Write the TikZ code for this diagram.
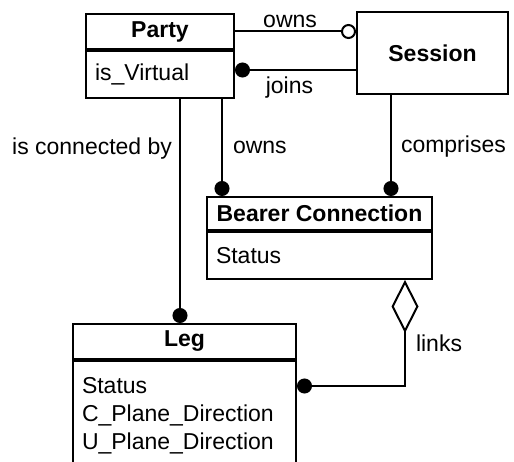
\documentclass[tikz,border=0pt]{standalone}
\usepackage{fontspec}
\setmainfont{Liberation Sans}
\usetikzlibrary{arrows.meta}

\begin{document}
\begin{tikzpicture}[x=1pt, y=-1pt, line width=2pt,
        every node/.style={font=\fontsize{23}{28}\selectfont},
        title/.style={draw, inner sep=0pt, font=\fontsize{23}{28}\selectfont\bfseries},
        attrs/.style={draw, anchor=north, inner xsep=9pt, inner ysep=0pt, align=left},
        lbl/.style={inner sep=0pt},
        dot/.style={-{Circle[length=15pt]}},
        ring/.style={-{Circle[open, length=15pt]}},
        agg/.style={{Diamond[open, length=53pt, width=27pt]}-{Circle[length=15pt]}}]
            \useasboundingbox (0, 0) rectangle (514, 462);
            \clip (0, 0) rectangle (514, 462);
            \node[title, minimum width=148pt, minimum height=35pt] (party) at (160, 31.5) {Party};
            \node[attrs, text width=130pt, minimum height=47pt] (party-attr) at (party.south) {is\_Virtual};
            \node[title, minimum width=151pt, minimum height=82pt] (session) at (432.5, 53) {Session};
            \node[title, minimum width=225pt, minimum height=33pt] (bearer) at (319.5, 213.5) {Bearer Connection};
            \node[attrs, text width=207pt, minimum height=47pt] (bearer-attr) at (bearer.south) {Status};
            \node[title, minimum width=223pt, minimum height=35pt] (leg) at (184.5, 341.5) {Leg};
            \node[attrs, text width=205pt, minimum height=109pt] (leg-attr) at (leg.south) {Status\\C\_Plane\_Direction\\U\_Plane\_Direction};
            \coordinate (joins-end) at ([yshift=4.5pt]party-attr.east);
            \coordinate (conn-top) at ([xshift=20pt]party-attr.south);
            \coordinate (own-top) at ([xshift=62pt]party-attr.south);
            \coordinate (comp-top) at ([xshift=-41.5pt]session.south);
            \coordinate (links-top) at ([xshift=85.5pt]bearer-attr.south);
            \coordinate (links-end) at ([yshift=-26pt]leg-attr.north east);
            \draw[ring] (party.east) -- (party.east -| session.west) node[lbl, above=3pt, pos=0.455] (owns-lbl) {owns};
            \draw[dot] (joins-end -| session.west) -- (joins-end) node[lbl, below=6pt, pos=0.55] (joins-lbl) {joins};
            \draw[dot] (conn-top) -- (conn-top |- leg.north) node[lbl, left=7pt, pos=0.22] (conn-lbl) {is connected by};
            \draw[dot] (own-top) -- (own-top |- bearer.north) node[lbl, right=10pt, pos=0.5] (own-lbl) {owns};
            \draw[dot] (comp-top) -- (comp-top |- bearer.north) node[lbl, right=9pt, pos=0.51] (comp-lbl) {comprises};
            \draw[agg] (links-top) |- (links-end) node[lbl, right=10pt, pos=0.3] (links-lbl) {links};
        \end{tikzpicture}
\end{document}
